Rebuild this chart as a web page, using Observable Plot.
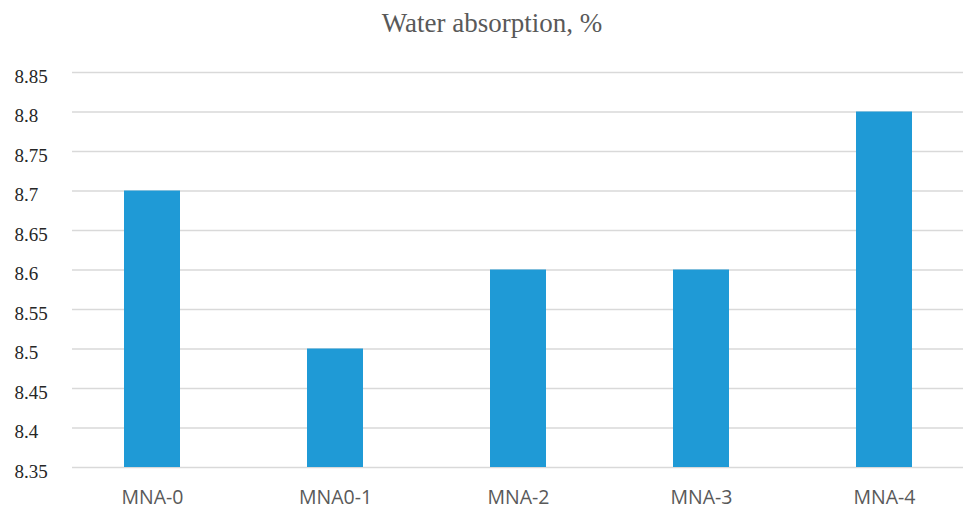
<!DOCTYPE html>
<html>
<head>
<meta charset="utf-8">
<script src="https://cdn.jsdelivr.net/npm/d3@7"></script>
<script src="https://cdn.jsdelivr.net/npm/@observablehq/plot@0.6"></script>
<style>
  html, body { margin: 0; padding: 0; background: #fff; }
  #wrap { position: relative; width: 963px; height: 509px; }
  #title {
    position: absolute; left: 0; top: 8px; width: 984px; text-align: center;
    font-family: "Liberation Serif", "Times New Roman", serif; font-size: 27px; color: #595959;
  }
  #chart { position: absolute; left: 0; top: 0; }
</style>
</head>
<body>
<div id="wrap">
  <div id="chart"></div>
  <div id="title">Water absorption, %</div>
</div>
<script>
const categories = ["MNA-0", "MNA0-1", "MNA-2", "MNA-3", "MNA-4"];
const values = [8.7, 8.5, 8.6, 8.6, 8.8];
const yTicks = [8.35, 8.4, 8.45, 8.5, 8.55, 8.6, 8.65, 8.7, 8.75, 8.8, 8.85];

const data = categories.map((c, i) => ({category: c, value: values[i]}));

const chart = Plot.plot({
  width: 963,
  height: 509,
  marginTop: 72,
  marginBottom: 42,
  marginLeft: 72,
  marginRight: 0,
  style: {overflow: "visible", fontFamily: "Liberation Serif, serif"},
  x: {domain: categories, range: [59.4, 975.6], paddingInner: 0.694, paddingOuter: 0.347},
  y: {domain: [8.35, 8.85], axis: null},
  marks: [
    Plot.gridY(yTicks, {stroke: "#d9d9d9", strokeOpacity: 1, strokeWidth: 1.5}),
    Plot.barY(data, {x: "category", y: "value", fill: "#1f9ad6", clip: true}),
    Plot.text(yTicks, {
      y: d => d, text: d => String(+d.toFixed(2)),
      frameAnchor: "left", textAnchor: "start", dx: -58, dy: 4,
      fontSize: 19, fill: "#262626", fontFamily: "Liberation Serif"
    }),
    Plot.axisX({
      tickSize: 0, tickPadding: 23, fontSize: 19.5,
      fill: "#595959", label: null
    })
  ]
});
chart.querySelectorAll('g[aria-label="x-axis tick label"] text').forEach(t => {
  t.setAttribute("font-family", "Open Sans");
});
document.getElementById("chart").appendChild(chart);
</script>
</body>
</html>
